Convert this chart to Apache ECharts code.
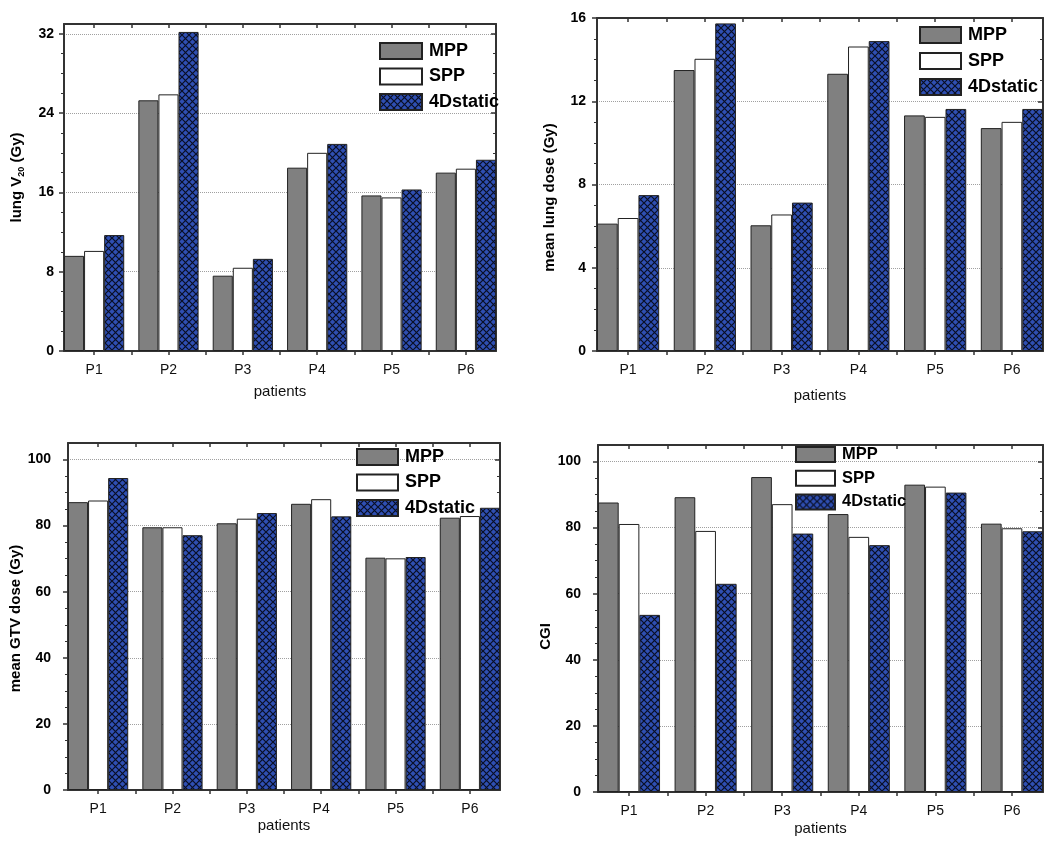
<!DOCTYPE html>
<html>
<head>
<meta charset="utf-8">
<title>MPP / SPP / 4Dstatic per patient</title>
<script src="https://cdn.jsdelivr.net/npm/echarts@6/dist/echarts.min.js"></script>
<style>
  html, body { margin: 0; padding: 0; background: #fff; }
  #chart { width: 1050px; height: 844px; }
</style>
</head>
<body>
<div id="chart"></div>
<script>
  // x axis: patients sit at 1..6 on a value axis so the outer bars can touch the frame
  var patients = ['P1', 'P2', 'P3', 'P4', 'P5', 'P6'];
  var plans = ['MPP', 'SPP', '4Dstatic'];

  // lung V20 (Gy)
  var v20Mpp    = [9.6, 25.3, 7.6, 18.5, 15.7, 18.0];
  var v20Spp    = [10.1, 25.9, 8.4, 20.0, 15.5, 18.4];
  var v20Static = [11.7, 32.2, 9.3, 20.9, 16.3, 19.3];
  var v20Ticks  = [0, 8, 16, 24, 32];

  // mean lung dose (Gy)
  var mldMpp    = [6.12, 13.5, 6.04, 13.32, 11.32, 10.71];
  var mldSpp    = [6.39, 14.04, 6.56, 14.63, 11.25, 11.01];
  var mldStatic = [7.49, 15.74, 7.13, 14.89, 11.63, 11.63];
  var mldTicks  = [0, 4, 8, 12, 16];

  // mean GTV dose (Gy)
  var gtvMpp    = [87.1, 79.5, 80.7, 86.6, 70.3, 82.4];
  var gtvSpp    = [87.6, 79.5, 82.1, 88.0, 70.1, 82.9];
  var gtvStatic = [94.4, 77.1, 83.8, 82.8, 70.5, 85.4];
  var gtvTicks  = [0, 20, 40, 60, 80, 100];

  // CGI
  var cgiMpp    = [87.6, 89.2, 95.3, 84.1, 93.0, 81.2];
  var cgiSpp    = [81.1, 79.0, 87.1, 77.2, 92.4, 79.8];
  var cgiStatic = [53.6, 63.0, 78.2, 74.7, 90.6, 78.9];
  var cgiTicks  = [0, 20, 40, 60, 80, 100];

  var font = 'Liberation Sans, Arial, sans-serif';
  var frame = '#333';

  // blue cross-hatch fill used by the 4Dstatic bars
  function hatch() {
    var c = document.createElement('canvas');
    c.width = 7; c.height = 7;
    var g = c.getContext('2d');
    g.fillStyle = '#2f4fb2';
    g.fillRect(0, 0, 7, 7);
    g.strokeStyle = '#0a0f25';
    g.lineWidth = 1.2;
    g.beginPath();
    g.moveTo(-1, -1); g.lineTo(8, 8);
    g.moveTo(8, -1); g.lineTo(-1, 8);
    g.stroke();
    return c;
  }
  var planColors = ['#808080', '#ffffff', { image: hatch(), repeat: 'repeat' }];

  var centers = patients.map(function (p, i) { return i + 1; });
  var xTicks = centers.concat(centers.slice(1).map(function (c) { return c - 0.5; }));

  // namePad shifts the rotated y title along the axis (left pad = up, right pad = down)
  var panels = [
    { box: { left: 64, top: 24, width: 432, height: 327 }, max: 33, interval: 8, ticks: v20Ticks,
      name: '{a|lung V}{s|20}{a| (Gy)}', nameGap: 38, namePad: [0, 0, 0, 20], xGap: 33,
      labelSize: 14, labelMargin: 10,
      values: [v20Mpp, v20Spp, v20Static],
      legend: { left: 379, top: 42, w: 42, h: 16, gap: 7.5, size: 18 } },
    { box: { left: 597, top: 18, width: 446, height: 333 }, max: 16, interval: 4, ticks: mldTicks,
      name: 'mean lung dose (Gy)', nameGap: 40, namePad: [0, 26, 0, 0], xGap: 37,
      labelSize: 14, labelMargin: 11,
      values: [mldMpp, mldSpp, mldStatic],
      legend: { left: 919, top: 26, w: 41, h: 16, gap: 8, size: 18 } },
    { box: { left: 68, top: 443, width: 432, height: 347 }, max: 105, interval: 20, ticks: gtvTicks,
      name: 'mean GTV dose (Gy)', nameGap: 45, namePad: [0, 4, 0, 0], xGap: 28,
      labelSize: 14, labelMargin: 17,
      values: [gtvMpp, gtvSpp, gtvStatic],
      legend: { left: 356, top: 448, w: 41, h: 16, gap: 7.5, size: 18 } },
    { box: { left: 598, top: 445, width: 445, height: 347 }, max: 105, interval: 20, ticks: cgiTicks,
      name: 'CGI', nameGap: 43, namePad: [0, 36, 0, 0], xGap: 29,
      labelSize: 14, labelMargin: 17,
      values: [cgiMpp, cgiSpp, cgiStatic],
      legend: { left: 795, top: 446, w: 39, h: 15, gap: 6.7, size: 16.5 } }
  ];

  var grid = [], xAxis = [], yAxis = [], series = [], legend = [];

  panels.forEach(function (p, k) {
    grid.push(p.box);

    var xBase = {
      gridIndex: k, type: 'value', min: 0.595, max: 6.405,
      axisLine: { show: true, onZero: false, lineStyle: { color: frame, width: 2 } },
      splitLine: { show: false }
    };
    xAxis.push(Object.assign({}, xBase, {
      position: 'bottom',
      axisTick: { show: true, length: 4, customValues: xTicks, lineStyle: { color: frame, width: 1.5 } },
      axisLabel: {
        customValues: centers, margin: 12, fontSize: 14, color: '#111', fontFamily: font,
        formatter: function (v) { return patients[Math.round(v) - 1]; }
      },
      name: 'patients', nameLocation: 'middle', nameGap: p.xGap,
      nameTextStyle: { fontSize: 15, color: '#111', fontFamily: font }
    }));
    xAxis.push(Object.assign({}, xBase, {
      position: 'top',
      axisTick: { show: true, inside: true, length: 4, customValues: xTicks, lineStyle: { color: frame, width: 1.5 } },
      axisLabel: { show: false }
    }));

    var yBase = {
      gridIndex: k, type: 'value', min: 0, max: p.max, interval: p.interval,
      axisLine: { show: true, lineStyle: { color: frame, width: 2 } },
      minorTick: { show: true, splitNumber: 4, length: 3, lineStyle: { color: frame, width: 1 } }
    };
    yAxis.push(Object.assign({}, yBase, {
      position: 'left',
      axisTick: { show: true, length: 5, customValues: p.ticks, lineStyle: { color: frame, width: 1.5 } },
      axisLabel: {
        customValues: p.ticks, margin: p.labelMargin, fontSize: p.labelSize,
        fontWeight: 'bold', color: '#000', fontFamily: font
      },
      splitLine: { show: true, lineStyle: { type: 'dotted', color: '#a0a0a0', width: 1 } },
      name: p.name, nameLocation: 'middle', nameGap: p.nameGap,
      nameTextStyle: {
        fontSize: 15, fontWeight: 'bold', color: '#000', fontFamily: font, padding: p.namePad,
        rich: {
          a: { fontSize: 15, fontWeight: 'bold', color: '#000', fontFamily: font, lineHeight: 18 },
          s: { fontSize: 9, fontWeight: 'bold', color: '#000', fontFamily: font, lineHeight: 10, verticalAlign: 'bottom' }
        }
      }
    }));
    yAxis.push(Object.assign({}, yBase, {
      position: 'right',
      axisTick: { show: true, inside: true, length: 5, customValues: p.ticks, lineStyle: { color: frame, width: 1.5 } },
      axisLabel: { show: false },
      splitLine: { show: false }
    }));

    plans.forEach(function (plan, j) {
      series.push({
        type: 'bar', name: plan,
        xAxisIndex: 2 * k, yAxisIndex: 2 * k,
        data: centers.map(function (x, i) { return [x, p.values[j][i]]; }),
        barGap: '0%', barCategoryGap: '19%',
        itemStyle: { color: planColors[j], borderColor: '#222', borderWidth: 1 },
        emphasis: { disabled: true }
      });
    });

    legend.push({
      data: plans, orient: 'vertical', left: p.legend.left, top: p.legend.top, padding: 0,
      itemWidth: p.legend.w, itemHeight: p.legend.h, itemGap: p.legend.gap,
      icon: 'rect', selectedMode: false,
      textStyle: {
        fontSize: p.legend.size, fontWeight: 'bold', color: '#000', fontFamily: font,
        lineHeight: p.legend.h, padding: [0, 0, 0, 2]
      }
    });
  });

  var chart = echarts.init(document.getElementById('chart'));
  chart.setOption({
    animation: false,
    textStyle: { fontFamily: font },
    grid: grid,
    xAxis: xAxis,
    yAxis: yAxis,
    legend: legend,
    series: series
  });
</script>
</body>
</html>
